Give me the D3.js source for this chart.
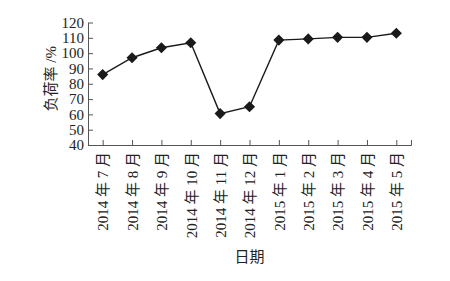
<!DOCTYPE html>
<html>
<head>
<meta charset="utf-8">
<script src="https://cdn.jsdelivr.net/npm/d3@7"></script>
<style>
  body { margin: 0; background: #fff; }
  svg text { font-family: "Liberation Serif", "Noto Sans CJK SC", serif; fill: #222; }
</style>
</head>
<body>
<div id="root"></div>
<script>
const months = ["2014 年 7 月", "2014 年 8 月", "2014 年 9 月", "2014 年 10 月", "2014 年 11 月", "2014 年 12 月",
    "2015 年 1 月", "2015 年 2 月", "2015 年 3 月", "2015 年 4 月", "2015 年 5 月"];
const loadRate = [86, 97, 103.5, 106.8, 60.5, 65, 108.5, 109.3, 110.3, 110.3, 113];
const yTicks = [40, 50, 60, 70, 80, 90, 100, 110, 120];

const width = 450, height = 281;
const margin = { top: 22.5, right: 39, bottom: 136, left: 88 };
const innerW = width - margin.left - margin.right;
const innerH = height - margin.top - margin.bottom;

const svg = d3.select("#root").append("svg").attr("width", width).attr("height", height);
const g = svg.append("g").attr("transform", `translate(${margin.left},${margin.top})`);

const x = d3.scalePoint().domain(months).range([0, innerW]).padding(0.5);
const y = d3.scaleLinear().domain([40, 120]).range([innerH, 0]);

const axisColor = "#555";

const gx = g.append("g").attr("transform", `translate(0,${innerH})`)
    .call(d3.axisBottom(x).tickSizeInner(-5).tickSizeOuter(-5));
gx.selectAll("text")
    .attr("transform", "rotate(-90)")
    .attr("x", -7).attr("y", 0).attr("dy", "0.35em")
    .attr("text-anchor", "end")
    .style("font-size", "15px");

const gy = g.append("g")
    .call(d3.axisLeft(y).tickValues(yTicks).tickSizeInner(-5).tickSizeOuter(0).tickPadding(4));
gy.selectAll("text").style("font-size", "15px");

g.selectAll(".domain, .tick line").attr("stroke", axisColor).attr("stroke-width", 1);

const line = d3.line().x((d, i) => x(months[i])).y(d => y(d));
g.append("path").datum(loadRate).attr("d", line)
    .attr("fill", "none").attr("stroke", "#1a1a1a").attr("stroke-width", 1.4);

const diamond = d3.symbol().type(d3.symbolSquare).size(62);
g.selectAll(".pt").data(loadRate).enter().append("path").attr("class", "pt")
    .attr("d", diamond)
    .attr("transform", (d, i) => `translate(${x(months[i])},${y(d)}) rotate(45)`)
    .attr("fill", "#1a1a1a");

svg.append("text")
    .attr("transform", `translate(51,${margin.top + innerH / 2 - 5}) rotate(-90)`)
    .attr("text-anchor", "middle").attr("dy", "0.35em")
    .style("font-size", "15px")
    .text("负荷率 /%");

svg.append("text")
    .attr("x", margin.left + innerW / 2).attr("y", 262)
    .attr("text-anchor", "middle")
    .style("font-size", "15px")
    .text("日期");
</script>
</body>
</html>
